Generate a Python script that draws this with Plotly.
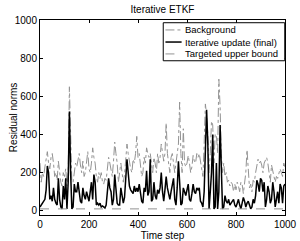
import plotly.graph_objects as go

steps = list(range(0, 1001, 5))

background = [
    250, 150, 200, 180, 230, 280, 310, 250, 220, 280,
    300, 250, 180, 200, 160, 260, 200, 150, 130, 200,
    180, 220, 130, 200, 650, 350, 150, 150, 200, 250,
    230, 280, 300, 240, 200, 260, 180, 200, 250, 310,
    220, 200, 250, 330, 280, 250, 180, 150, 200, 170,
    200, 150, 140, 170, 160, 230, 280, 250, 200, 180,
    260, 360, 300, 250, 150, 190, 250, 200, 150, 190,
    280, 350, 300, 250, 220, 200, 270, 250, 300, 390,
    280, 300, 230, 180, 200, 280, 250, 330, 300, 280,
    300, 250, 200, 280, 250, 200, 300, 250, 280, 350,
    300, 260, 300, 460, 300, 250, 200, 280, 300, 250,
    200, 250, 300, 350, 570, 300, 200, 430, 250, 230,
    250, 290, 250, 200, 230, 290, 260, 250, 300, 280,
    300, 260, 200, 180, 350, 560, 500, 400, 200, 300,
    470, 450, 250, 400, 400, 300, 690, 550, 300, 200,
    250, 180, 200, 150, 160, 130, 150, 140, 100, 140,
    110, 150, 130, 100, 150, 140, 90, 150, 200, 320,
    200, 120, 140, 100, 160, 150, 200, 230, 270, 250,
    260, 240, 200, 250, 270, 280, 250, 200, 150, 240,
    200, 180, 150, 180, 170, 190, 220, 200, 180, 250,
    230,
]

iterative = [
    20, 30, 40, 45, 60, 110, 235, 200, 60, 80,
    50, 120, 60, 40, 30, 170, 60, 20, 10, 130,
    60, 170, 10, 150, 520, 200, 10, 20, 140, 100,
    100, 150, 110, 50, 40, 120, 80, 60, 100, 80,
    50, 100, 150, 60, 190, 150, 30, 40, 30, 40,
    20, 25, 20, 15, 30, 100, 170, 120, 100, 30,
    60, 190, 120, 40, 30, 30, 120, 80, 40, 70,
    150, 270, 200, 130, 110, 100, 90, 130, 100, 120,
    100, 140, 90, 50, 40, 120, 100, 210, 80, 100,
    270, 50, 60, 150, 80, 60, 110, 90, 120, 200,
    100, 50, 110, 180, 120, 80, 60, 100, 130, 170,
    60, 30, 120, 260, 150, 30, 40, 120, 100, 80,
    110, 140, 60, 50, 90, 140, 100, 90, 120, 110,
    120, 50, 40, 20, 100, 300, 530, 350, 10, 100,
    200, 400, 10, 20, 250, 10, 100, 450, 200, 10,
    20, 80, 50, 40, 60, 30, 40, 50, 60, 30,
    20, 40, 60, 30, 10, 40, 70, 50, 20, 40,
    50, 30, 10, 20, 60, 40, 80, 160, 140, 100,
    170, 160, 100, 150, 20, 60, 130, 100, 40, 60,
    150, 100, 20, 60, 100, 40, 140, 120, 40, 130,
    140,
]

target = [10] * len(steps)

series_names = ["Background", "Iterative update (final)", "Targeted upper bound"]
series_colors = ["#939393", "black", "#939393"]
series_widths = [1, 1.5, 1]
series_dashes = ["dashdot", "solid", "dash"]
series_values = [background, iterative, target]

fig = go.Figure()
for name, vals, col, w, d in zip(series_names, series_values, series_colors, series_widths, series_dashes):
    fig.add_trace(go.Scatter(x=steps, y=vals, mode="lines", name=name,
                             line=dict(color=col, width=w, dash=d)))

axis_common = dict(showgrid=False, zeroline=False, showline=True, linecolor="black",
                   linewidth=1, mirror="ticks", ticks="inside", ticklen=3,
                   tickcolor="black", tickfont=dict(size=10, color="black"),
                   automargin=False)

# custom legend (MATLAB style, compact)
leg_x0, leg_x1, leg_y0, leg_y1 = 0.503, 0.999, 0.791, 0.986
row_y = [0.949, 0.887, 0.826]
shapes = [dict(type="rect", xref="paper", yref="paper", x0=leg_x0, x1=leg_x1,
               y0=leg_y0, y1=leg_y1, line=dict(color="black", width=1),
               fillcolor="white", layer="above")]
annotations = []
for name, col, w, d, yy in zip(series_names, series_colors, series_widths, series_dashes, row_y):
    shapes.append(dict(type="line", xref="paper", yref="paper", x0=0.512, x1=0.578,
                       y0=yy, y1=yy, line=dict(color=col, width=w, dash=d), layer="above"))
    annotations.append(dict(xref="paper", yref="paper", x=0.582, y=yy, xanchor="left",
                            yanchor="middle", text=name, showarrow=False,
                            font=dict(size=9.5, color="black")))

# y-axis title placed like the reference
annotations.append(dict(xref="paper", yref="paper", x=-0.11, y=0.497, xanchor="center",
                        yanchor="middle", text="Residual norms", textangle=-90,
                        showarrow=False, font=dict(size=10, color="black")))

fig.update_layout(
    width=300, height=241,
    margin=dict(l=40, r=15, t=20, b=26),
    paper_bgcolor="white", plot_bgcolor="white",
    font=dict(family="Liberation Sans, Arial, sans-serif", color="black"),
    title=dict(text="Iterative ETKF", xref="paper", x=0.5, xanchor="center",
               y=0.962, yanchor="middle", font=dict(size=10)),
    xaxis=dict(range=[0, 1000], tickvals=[0, 200, 400, 600, 800, 1000],
               title=dict(text="Time step", font=dict(size=10), standoff=0), **axis_common),
    yaxis=dict(range=[-22, 1000], tickvals=[0, 200, 400, 600, 800, 1000], **axis_common),
    showlegend=False,
    shapes=shapes,
    annotations=annotations,
)

fig.write_html("out.html", config={"displayModeBar": False},
               post_script="document.body.style.margin='0';document.body.style.padding='0';")
